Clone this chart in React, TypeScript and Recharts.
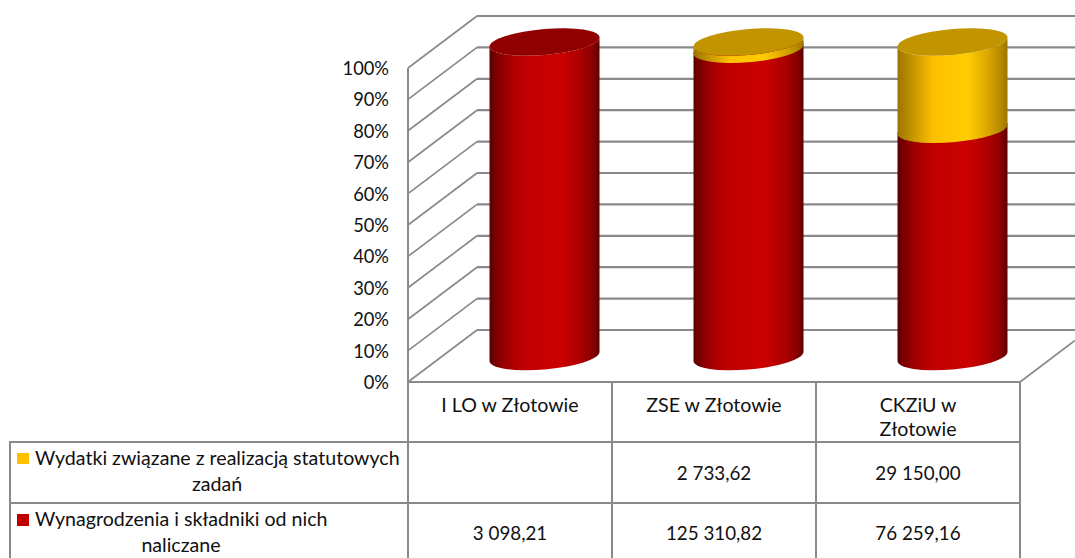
import React from "react";
import { ComposedChart, Bar, XAxis, YAxis, CartesianGrid, Customized } from "recharts";

const categories = ["I LO w Złotowie", "ZSE w Złotowie", "CKZiU w Złotowie"];
const categoryLines = [["I LO w Złotowie"], ["ZSE w Złotowie"], ["CKZiU w", "Złotowie"]];
const wynagrodzenia = [3098.21, 125310.82, 76259.16];
const wydatki: (number | null)[] = [null, 2733.62, 29150.0];
const wynagrodzeniaLabels = ["3 098,21", "125 310,82", "76 259,16"];
const wydatkiLabels = ["", "2 733,62", "29 150,00"];
const yTicks = [0, 0.1, 0.2, 0.3, 0.4, 0.5, 0.6, 0.7, 0.8, 0.9, 1];

const data = categories.map((name, i) => ({
  name,
  wynagrodzenia: wynagrodzenia[i],
  wydatki: wydatki[i],
}));

const W = 1075;
const H = 558;
const LEFT = 408;
const RIGHT = 1020;
const TOP = 68;
const BOTTOM = 382;
const DX = 69;
const DY = 52;
const GRID = "#8a8a8a";
const FONT = "Lato, Carlito, sans-serif";
const FS = 19.6;
const FS_NUM = 18.8;
const FS_AXIS = 18.3;
const TEXT = "#111";

const RED = { top: "#900000", edge: "#5c0000", d1: "#880000", d2: "#ae0000", m1: "#c00000", m2: "#cc0000" };
const YEL = { top: "#c29400", edge: "#9a7500", d1: "#b48a00", d2: "#dca600", m1: "#ffc000", m2: "#ffcc00" };

function cylinder(c: typeof RED, id: string) {
  return function Shape(props: any) {
    const { x, y, width, height, index } = props;
    if (!height || height <= 0) return <g />;
    const rx = width / 2;
    const ry = 13;
    const cx = x + rx + DX / 2;
    const t = y - 26;
    const b = y + height - 25.5;
    const gid = `${id}-${index}`;
    return (
      <g transform={`matrix(1,-0.082,0,1,${cx},0)`}>
        <defs>
          <linearGradient id={gid} x1="0" y1="0" x2="1" y2="0">
            <stop offset="0" stopColor={c.edge} />
            <stop offset="0.09" stopColor={c.d1} />
            <stop offset="0.21" stopColor={c.d2} />
            <stop offset="0.33" stopColor={c.m1} />
            <stop offset="0.64" stopColor={c.m2} />
            <stop offset="0.82" stopColor={c.d2} />
            <stop offset="0.94" stopColor={c.d1} />
            <stop offset="1" stopColor={c.edge} />
          </linearGradient>
        </defs>
        <path
          d={`M ${-rx} ${t} A ${rx} ${ry} 0 0 0 ${rx} ${t} L ${rx} ${b} A ${rx} ${ry} 0 0 1 ${-rx} ${b} Z`}
          fill={`url(#${gid})`}
        />
        <ellipse cx={0} cy={t} rx={rx} ry={ry} fill={c.top} />
      </g>
    );
  };
}

const RedCylinder = cylinder(RED, "red");
const YellowCylinder = cylinder(YEL, "yel");

function gridLine(props: any) {
  const { y1, key, index } = props;
  const isFloor = Math.abs(y1 - BOTTOM) < 1;
  return (
    <g key={key ?? index}>
      <line x1={LEFT} y1={y1} x2={LEFT + DX} y2={y1 - DY} stroke={GRID} strokeWidth={1.7} />
      <line x1={LEFT + DX} y1={y1 - DY} x2={W} y2={y1 - DY} stroke={GRID} strokeWidth={2.2} />
      {isFloor && <line x1={RIGHT} y1={y1} x2={W} y2={y1 - (W - RIGHT) * (DY / DX)} stroke={GRID} strokeWidth={1.7} />}
    </g>
  );
}

function TableTick(props: any) {
  const { x, payload, index } = props;
  const i = payload?.index ?? index;
  const lines = categoryLines[i];
  const half = (RIGHT - LEFT) / categories.length / 2;
  const common = { fontFamily: FONT, fill: TEXT, textAnchor: "middle" as const, dominantBaseline: "central" as const };
  return (
    <g>
      <line x1={x - half} y1={BOTTOM} x2={x - half} y2={H} stroke={GRID} strokeWidth={2} />
      {i === categories.length - 1 && <line x1={x + half} y1={BOTTOM} x2={x + half} y2={H} stroke={GRID} strokeWidth={2} />}
      {lines.map((l, k) => (
        <text key={k} x={x} y={404 + k * 24.5} fontSize={FS} {...common}>{l}</text>
      ))}
      <text x={x} y={472.5} fontSize={FS_NUM} {...common}>{wydatkiLabels[i]}</text>
      <text x={x} y={532.5} fontSize={FS_NUM} {...common}>{wynagrodzeniaLabels[i]}</text>
    </g>
  );
}

function SeriesColumn() {
  const t = { fontFamily: FONT, fontSize: FS, fill: TEXT, dominantBaseline: "central" as const };
  return (
    <g>
      <line x1={10} y1={442} x2={RIGHT} y2={442} stroke={GRID} strokeWidth={2} />
      <line x1={10} y1={503} x2={RIGHT} y2={503} stroke={GRID} strokeWidth={2} />
      <line x1={10} y1={441} x2={10} y2={H} stroke={GRID} strokeWidth={2} />
      <rect x={17} y={453} width={12} height={11} fill="#ffc000" />
      <text x={35} y={457.5} {...t}>Wydatki związane z realizacją statutowych</text>
      <text x={217} y={483.5} textAnchor="middle" {...t}>zadań</text>
      <rect x={17} y={514} width={12} height={12} fill="#c00000" />
      <text x={35} y={518.5} {...t}>Wynagrodzenia i składniki od nich</text>
      <text x={181} y={544.5} textAnchor="middle" {...t}>naliczane</text>
    </g>
  );
}

function AxisTick(props: any) {
  const { x, y, payload } = props;
  return (
    <text x={x} y={y} textAnchor="end" dominantBaseline="central" fontFamily={FONT} fontSize={FS_AXIS} fill={TEXT}>
      {`${Math.round(payload.value * 100)}%`}
    </text>
  );
}

export default function App() {
  return (
    <div style={{ position: "absolute", left: 0, top: 0, width: W, height: H, overflow: "hidden", background: "#fff" }}>
      <ComposedChart
        width={W}
        height={H}
        data={data}
        stackOffset="expand"
        margin={{ top: TOP, right: W - RIGHT, bottom: 0, left: 0 }}
      >
        <CartesianGrid vertical={false} horizontal={gridLine as any} />
        <XAxis
          dataKey="name"
          height={H - BOTTOM}
          interval={0}
          tick={<TableTick />}
          tickLine={false}
          axisLine={{ stroke: GRID, strokeWidth: 2 }}
        />
        <YAxis
          width={LEFT}
          domain={[0, 1]}
          ticks={yTicks}
          tick={<AxisTick />}
          tickLine={false}
          tickSize={0}
          tickMargin={19}
          axisLine={{ stroke: GRID, strokeWidth: 2 }}
          interval={0}
        />
        <Bar dataKey="wynagrodzenia" stackId="a" barSize={110} shape={RedCylinder} isAnimationActive={false} />
        <Bar dataKey="wydatki" stackId="a" barSize={110} shape={YellowCylinder} isAnimationActive={false} />
        <Customized component={SeriesColumn} />
      </ComposedChart>
    </div>
  );
}
